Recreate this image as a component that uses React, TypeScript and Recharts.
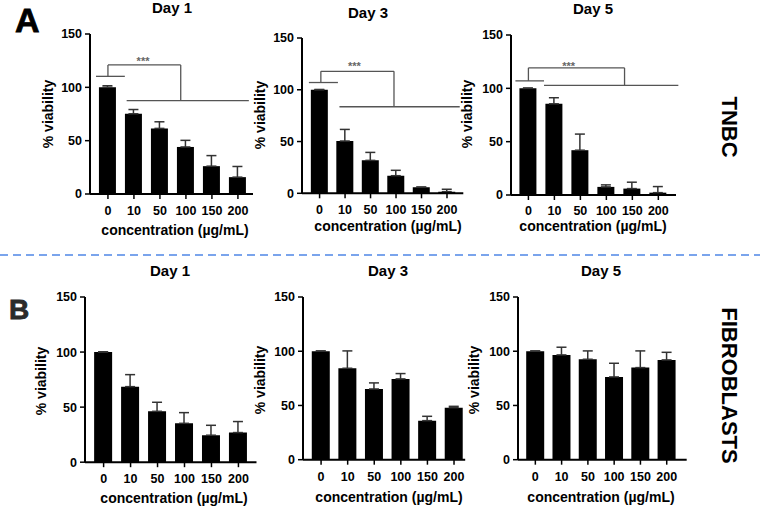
import {
  BarChart,
  Bar,
  XAxis,
  YAxis,
  ErrorBar,
  ReferenceLine,
  ReferenceDot,
} from "recharts";

const concentrations = ["0", "10", "50", "100", "150", "200"];
const yTicks = [0, 50, 100, 150];

// TNBC cells, % viability (mean / SD)
const tnbcDay1 = [100, 75.2, 61.5, 44.1, 26.1, 15.8];
const tnbcDay1Sd = [1.5, 4, 6.2, 6.2, 9.9, 10];
const tnbcDay3 = [100, 50.5, 31.8, 17, 5.8, 1.6];
const tnbcDay3Sd = [0.3, 11.2, 7.7, 5.2, 0.3, 2.3];
const tnbcDay5 = [100, 85.5, 42, 7.6, 6, 2.2];
const tnbcDay5Sd = [0.3, 5.7, 15.1, 1.9, 6, 5.7];

// fibroblasts, % viability (mean / SD)
const fibDay1 = [100, 68.6, 46.2, 35.3, 24.5, 26.9];
const fibDay1Sd = [0.3, 10.9, 8.2, 9.7, 9, 10];
const fibDay3 = [100, 84.3, 65.2, 74.5, 36, 48];
const fibDay3Sd = [0.3, 16, 5.6, 4.9, 4, 1.2];
const fibDay5 = [100, 96.6, 92.6, 76.3, 84.9, 92];
const fibDay5Sd = [0.3, 7.1, 7.7, 12.6, 15.4, 7];

// significance brackets: [x1, y1, x2, y2] in (category index, % viability)
type Seg = [number, number, number, number];
const tnbcDay1Bracket: Seg[] = [
  [-0.46, 110.3, 0.65, 110.3],
  [0, 110.3, 0, 121],
  [0, 121, 2.8, 121],
  [2.8, 121, 2.8, 87.5],
  [0.72, 87.5, 5.42, 87.5],
];
const tnbcDay3Bracket: Seg[] = [
  [-0.42, 107, 0.72, 107],
  [0.05, 107, 0.05, 117.8],
  [0.05, 117.8, 2.92, 117.8],
  [2.92, 117.8, 2.92, 83.6],
  [0.78, 83.6, 5.5, 83.6],
];
const tnbcDay5Bracket: Seg[] = [
  [-0.5, 107, 0.6, 107],
  [0, 107, 0, 119.2],
  [0, 119.2, 3.7, 119.2],
  [3.7, 119.2, 3.7, 102.8],
  [0.6, 102.8, 5.77, 102.8],
];

const FONT = "'Liberation Sans', Arial, sans-serif";

type PanelProps = {
  values: number[];
  sd: number[];
  left: number; // x of y axis
  right: number; // end of x axis
  top: number; // y of 150
  zero: number; // y of 0
  domain: [number, number];
  barSize: number;
  tickGap: number;
  bracket?: Seg[];
  star?: [number, number];
};

function Panel({ values, sd, left, right, top, zero, domain, barSize, tickGap, bracket, star }: PanelProps) {
  const data = values.map((v, i) => ({ idx: i, v, err: [0, sd[i]] }));
  return (
    <div style={{ position: "absolute", left: left - 60, top: top - 10 }}>
      <BarChart
        width={right - left + 70}
        height={zero - top + 60}
        data={data}
        margin={{ top: 10, right: 10, bottom: 0, left: 0 }}
      >
        <XAxis
          dataKey="idx"
          type="number"
          domain={domain}
          allowDataOverflow
          ticks={[0, 1, 2, 3, 4, 5]}
          interval={0}
          tickFormatter={(i: number) => concentrations[Math.round(i)]}
          height={50}
          axisLine={{ stroke: "#000", strokeWidth: 2 }}
          tickLine={{ stroke: "#000", strokeWidth: 1.5 }}
          tickSize={5}
          tickMargin={tickGap}
          tick={{ fontSize: 12.5, fontWeight: 700, fill: "#000", fontFamily: FONT }}
        />
        <YAxis
          domain={[0, 150]}
          ticks={yTicks}
          width={60}
          axisLine={{ stroke: "#000", strokeWidth: 2 }}
          tickLine={{ stroke: "#000", strokeWidth: 1.5 }}
          tickSize={5}
          tickMargin={3}
          tick={{ fontSize: 12.5, fontWeight: 700, fill: "#000", fontFamily: FONT }}
        />
        <Bar dataKey="v" fill="#000" barSize={barSize} isAnimationActive={false}>
          <ErrorBar dataKey="err" width={5} stroke="#333" strokeWidth={1.5} direction="y" />
        </Bar>
        {(bracket || []).map((s, i) => (
          <ReferenceLine
            key={i}
            segment={[
              { x: s[0], y: s[1] },
              { x: s[2], y: s[3] },
            ]}
            stroke="#555"
            strokeWidth={1.3}
            ifOverflow="visible"
          />
        ))}
        {star && (
          <ReferenceDot
            x={star[0]}
            y={star[1]}
            r={0}
            fill="none"
            stroke="none"
            ifOverflow="visible"
            label={{ value: "***", position: "center", fontSize: 11, fontWeight: 700, fill: "#666", dy: 3 }}
          />
        )}
      </BarChart>
    </div>
  );
}

const textStyle = { fontFamily: FONT, fontWeight: 700, fill: "#000" } as const;

export default function App() {
  const xLabel = "concentration (µg/mL)";
  const yLabel = "% viability";
  return (
    <div style={{ position: "absolute", left: 0, top: 0, width: 760, height: 509, background: "#fff", fontFamily: FONT }}>
      <svg width={760} height={509} style={{ position: "absolute", left: 0, top: 0 }}>
        <line x1={0} y1={255} x2={760} y2={255} stroke="#4f87e6" strokeWidth={1.5} strokeDasharray="8 5" />
        <text x={15} y={32} fontSize={34} {...textStyle} stroke="#000" strokeWidth={0.8}>A</text>
        <text x={9} y={318.5} fontSize={28} {...textStyle} fill="#2b2b2b" stroke="#2b2b2b" strokeWidth={0.8}>B</text>

        <text x={172} y={13} fontSize={15} textAnchor="middle" {...textStyle}>Day 1</text>
        <text x={368} y={17.5} fontSize={15} textAnchor="middle" {...textStyle}>Day 3</text>
        <text x={593} y={14} fontSize={15} textAnchor="middle" {...textStyle}>Day 5</text>
        <text x={170} y={276} fontSize={15} textAnchor="middle" {...textStyle}>Day 1</text>
        <text x={388} y={276} fontSize={15} textAnchor="middle" {...textStyle}>Day 3</text>
        <text x={601} y={276} fontSize={15} textAnchor="middle" {...textStyle}>Day 5</text>

        <text x={175} y={235} fontSize={14} textAnchor="middle" {...textStyle}>{xLabel}</text>
        <text x={388} y={231} fontSize={14} textAnchor="middle" {...textStyle}>{xLabel}</text>
        <text x={593} y={231} fontSize={14} textAnchor="middle" {...textStyle}>{xLabel}</text>
        <text x={174} y={503} fontSize={14} textAnchor="middle" {...textStyle}>{xLabel}</text>
        <text x={389} y={501.5} fontSize={14} textAnchor="middle" {...textStyle}>{xLabel}</text>
        <text x={601} y={501.5} fontSize={14} textAnchor="middle" {...textStyle}>{xLabel}</text>

        {[
          [49, 114],
          [261, 115],
          [468, 114],
          [42.5, 381],
          [261, 380],
          [475, 380],
        ].map(([x, y], i) => (
          <text
            key={i}
            x={x}
            y={y}
            fontSize={14}
            textAnchor="middle"
            dominantBaseline="middle"
            transform={`rotate(-90 ${x} ${y})`}
            {...textStyle}
          >
            {yLabel}
          </text>
        ))}

        <text x={728} y={127} fontSize={22} textAnchor="middle" dominantBaseline="middle" transform="rotate(90 728 127)" {...textStyle}>TNBC</text>
        <text x={728} y={385.5} fontSize={22} textAnchor="middle" dominantBaseline="middle" transform="rotate(90 728 385.5)" {...textStyle}>FIBROBLASTS</text>
      </svg>

      <Panel values={tnbcDay1} sd={tnbcDay1Sd} left={90} right={253} top={34.3} zero={194.3} domain={[-0.69, 5.58]} barSize={17} tickGap={7} bracket={tnbcDay1Bracket} star={[1.35, 127.5]} />
      <Panel values={tnbcDay3} sd={tnbcDay3Sd} left={301.7} right={463} top={38} zero={193.3} domain={[-0.69, 5.64]} barSize={17} tickGap={7} bracket={tnbcDay3Bracket} star={[1.37, 126]} />
      <Panel values={tnbcDay5} sd={tnbcDay5Sd} left={510.7} right={675.7} top={34.7} zero={194.7} domain={[-0.67, 5.68]} barSize={17} tickGap={6} bracket={tnbcDay5Bracket} star={[1.55, 123.6]} />
      <Panel values={fibDay1} sd={fibDay1Sd} left={84.5} right={256} top={297.3} zero={462.5} domain={[-0.69, 5.67]} barSize={18} tickGap={7} />
      <Panel values={fibDay3} sd={fibDay3Sd} left={303.3} right={465.5} top={297.3} zero={460} domain={[-0.68, 5.42]} barSize={18} tickGap={7} />
      <Panel values={fibDay5} sd={fibDay5Sd} left={518} right={686.7} top={297.3} zero={460} domain={[-0.66, 5.76]} barSize={18} tickGap={7} />
    </div>
  );
}
